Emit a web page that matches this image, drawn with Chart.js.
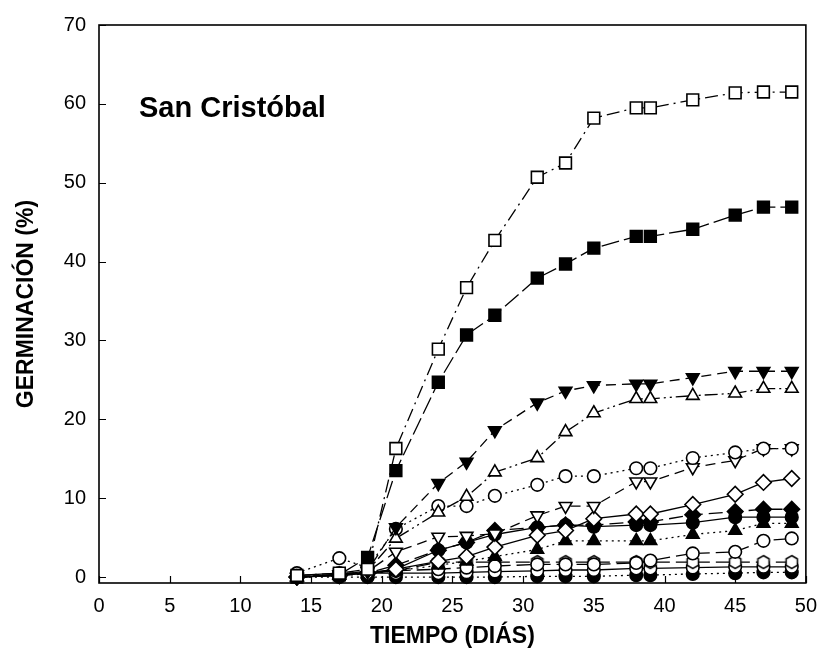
<!DOCTYPE html>
<html>
<head>
<meta charset="UTF-8" />
<script src="https://cdn.jsdelivr.net/npm/chart.js"></script>
<style>
  body { margin: 0; padding: 0; background: #fff; }
  #germ { display: block; }
</style>
</head>
<body>
<canvas id="germ" width="828" height="669"></canvas>
<script>
// días de muestreo
const dias = [14, 17, 19, 21, 24, 26, 28, 31, 33, 35, 38, 39, 42, 45, 47, 49];
const yTicks = [0, 10, 20, 30, 40, 50, 60, 70];

// germinación acumulada (%) por tratamiento
const circNegro = [0, 0.3, 0.5, 1.0, 3.4, 4.4, 5.4, 6.3, 6.6, 6.4, 6.6, 6.6, 6.9, 7.6, 7.6, 7.6];
const circBlanco = [0, 0.3, 0.5, 0.8, 1.0, 1.2, 1.4, 1.6, 1.6, 1.6, 1.8, 2.1, 3.0, 3.2, 4.6, 4.9];
const trianInvNegro = [0, 0.3, 0.8, 6.3, 11.9, 14.6, 18.6, 22.1, 23.6, 24.3, 24.5, 24.5, 25.3, 26.1, 26.1, 26.1];
const trianBlanco = [0, 0.3, 0.8, 4.9, 8.2, 10.2, 13.3, 15.1, 18.4, 20.8, 22.6, 22.6, 23.0, 23.3, 23.9, 23.9];
const cuadNegro = [0, 0.3, 2.5, 13.5, 24.7, 30.7, 33.2, 37.9, 39.7, 41.7, 43.2, 43.2, 44.1, 45.9, 46.9, 46.9];
const cuadBlanco = [0.2, 0.5, 1.0, 16.3, 28.9, 36.7, 42.7, 50.7, 52.5, 58.2, 59.5, 59.5, 60.5, 61.4, 61.5, 61.5];
const romboNegro = [0, 0.2, 0.5, 1.5, 3.4, 4.4, 5.9, 6.3, 6.6, 6.6, 7.0, 7.0, 7.9, 8.3, 8.6, 8.6];
const romboBlanco = [0, 0.2, 0.5, 1.0, 2.0, 2.6, 3.8, 5.3, 5.9, 7.4, 8.0, 8.0, 9.2, 10.5, 12.0, 12.5];
const trianNegro = [0, 0.2, 0.4, 0.8, 1.5, 2.0, 2.6, 3.5, 4.6, 4.6, 4.6, 4.6, 5.4, 5.9, 6.8, 6.8];
const trianInvBlanco = [0, 0.3, 0.7, 3.2, 5.1, 5.2, 5.5, 7.8, 9.0, 9.0, 12.1, 12.1, 13.9, 14.8, 16.3, 16.3];
const hexBlanco = [0, 0.3, 0.5, 0.8, 1.9, 1.9, 1.9, 1.9, 1.9, 1.9, 1.9, 1.9, 1.9, 1.9, 1.9, 1.9];
const circNegro2 = [0, 0, 0, 0, 0, 0, 0, 0.1, 0.1, 0.1, 0.25, 0.25, 0.4, 0.5, 0.6, 0.6];
const circBlanco2 = [0.5, 2.4, 1.2, 6.1, 9.0, 9.0, 10.3, 11.7, 12.8, 12.8, 13.8, 13.8, 15.1, 15.8, 16.3, 16.3];
const circBlanco3 = [0.2, 0.5, 0.5, 0.5, 0.5, 0.6, 0.7, 0.8, 0.9, 0.9, 1.1, 1.1, 1.2, 1.3, 1.3, 1.3];

const fuente = '"Liberation Sans", Arial, sans-serif';

// hexágono como símbolo (Chart.js no lo trae)
function hexagono(relleno) {
  const c = document.createElement('canvas');
  c.width = 16; c.height = 16;
  const g = c.getContext('2d');
  g.beginPath();
  for (let i = 0; i < 6; i++) {
    const a = Math.PI / 3 * i - Math.PI / 2;
    const px = 8 + 6.5 * Math.cos(a), py = 8 + 6.5 * Math.sin(a);
    i ? g.lineTo(px, py) : g.moveTo(px, py);
  }
  g.closePath();
  g.fillStyle = relleno;
  g.fill();
  g.lineWidth = 1.5;
  g.strokeStyle = '#000';
  g.stroke();
  return c;
}

function serie(valores, simbolo, relleno, trazo, extra) {
  return Object.assign({
    data: dias.map((d, i) => ({ x: d, y: valores[i] })),
    borderColor: '#000',
    borderWidth: 1.3,
    borderDash: trazo,
    pointStyle: simbolo,
    pointRadius: 6.3,
    pointBackgroundColor: relleno,
    pointBorderColor: '#000',
    pointBorderWidth: 1.6,
    fill: false,
    tension: 0,
    clip: false,
  }, extra || {});
}

const solida = [];
const larga = [14, 6];
const media = [10, 6];
const puntos = [2, 4];
const rayaPunto = [13, 5, 2, 5];
const rayaDosPuntos = [13, 4, 2, 4, 2, 4];

const datasets = [
  serie(cuadBlanco, 'rect', '#fff', rayaPunto, { pointRadius: 8.3 }),
  serie(cuadNegro, 'rect', '#000', [18, 5], { pointRadius: 8.3 }),
  serie(trianInvNegro, 'triangle', '#000', media, { pointRadius: 7.3, pointRotation: 180 }),
  serie(trianBlanco, 'triangle', '#fff', rayaDosPuntos, { pointRadius: 7.3 }),
  serie(circBlanco2, 'circle', '#fff', puntos),
  serie(trianInvBlanco, 'triangle', '#fff', media, { pointRadius: 7.3, pointRotation: 180 }),
  serie(romboBlanco, 'rectRot', '#fff', solida, { pointRadius: 7.8 }),
  serie(romboNegro, 'rectRot', '#000', larga, { pointRadius: 7.8 }),
  serie(circNegro, 'circle', '#000', solida),
  serie(trianNegro, 'triangle', '#000', puntos, { pointRadius: 7.3 }),
  serie(circBlanco, 'circle', '#fff', larga),
  serie(hexBlanco, hexagono('#fff'), '#fff', larga),
  serie(circBlanco3, 'circle', '#fff', solida),
  serie(circNegro2, 'circle', '#000', puntos),
];

// marco, marcas hacia dentro y rótulo del sitio
const marco = {
  id: 'marco',
  afterDatasetsDraw(chart) {
    const { ctx, chartArea: a, scales: { x, y } } = chart;
    ctx.save();
    ctx.strokeStyle = '#000';
    ctx.lineWidth = 1.6;
    ctx.strokeRect(a.left, a.top, a.right - a.left, a.bottom - a.top);
    ctx.lineWidth = 1.2;
    ctx.beginPath();
    for (let v = 0; v <= 50; v += 5) {
      const px = Math.round(x.getPixelForValue(v)) + 0.5;
      ctx.moveTo(px, a.bottom);
      ctx.lineTo(px, a.bottom - 7);
    }
    yTicks.forEach(v => {
      const py = Math.round(y.getPixelForValue(v)) + 0.5;
      ctx.moveTo(a.left, py);
      ctx.lineTo(a.left + 7, py);
    });
    ctx.stroke();
    ctx.fillStyle = '#000';
    ctx.font = 'bold 29px ' + fuente;
    ctx.textBaseline = 'middle';
    ctx.fillText('San Cristóbal', 139, 109);
    ctx.restore();
  }
};

new Chart(document.getElementById('germ'), {
  type: 'line',
  data: { datasets },
  options: {
    responsive: false,
    animation: false,
    devicePixelRatio: 1,
    layout: { padding: { top: 20, right: 13, left: 0, bottom: 0 } },
    plugins: { legend: { display: false }, tooltip: { enabled: false } },
    scales: {
      x: {
        type: 'linear',
        min: 0,
        max: 50,
        afterFit: s => { s.height = 86; },
        grid: { display: false, drawTicks: false },
        border: { display: false },
        ticks: {
          stepSize: 5,
          padding: 11,
          color: '#000',
          font: { family: fuente, size: 20 },
        },
        title: {
          display: true,
          text: 'TIEMPO (DIÁS)',
          color: '#000',
          padding: { top: 19, bottom: 19 },
          font: { family: fuente, size: 23, weight: 'bold' },
        },
      },
      y: {
        type: 'linear',
        min: -0.75,
        max: 70,
        afterFit: s => { s.width = 99; },
        afterBuildTicks: s => { s.ticks = yTicks.map(v => ({ value: v })); },
        grid: { display: false, drawTicks: false },
        border: { display: false },
        ticks: {
          padding: 13,
          color: '#000',
          font: { family: fuente, size: 20 },
        },
        title: {
          display: true,
          text: 'GERMINACIÓN (%)',
          color: '#000',
          padding: { top: 13, bottom: 13 },
          font: { family: fuente, size: 23, weight: 'bold' },
        },
      },
    },
  },
  plugins: [marco],
});
</script>
</body>
</html>
